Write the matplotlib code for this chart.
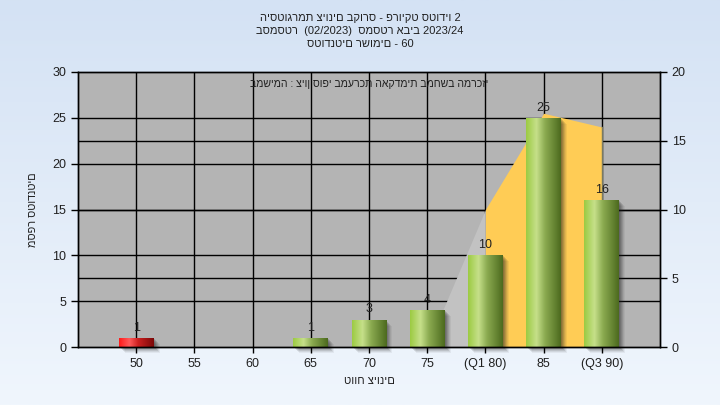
import numpy as np
import matplotlib
matplotlib.use("Agg")
import matplotlib.pyplot as plt
from matplotlib.patches import Rectangle
from matplotlib.colors import LinearSegmentedColormap
import matplotlib.transforms as mtransforms

# ---------------- data ----------------
categories = ["50", "55", "60", "65", "70", "75", "(Q1 80)", "85", "(Q3 90)"]
counts = [1, 0, 0, 1, 3, 4, 10, 25, 16]
failing = [True, False, False, False, False, False, False, False, False]
area_values = [0, 0, 0, 0, 0, 0, 10, 17, 16]   # right axis units
area_start = 5      # index where grey area begins
q1_index = 6
q3_index = 8

title_lines = ["היסטוגרמת ציונים בקורס - פרויקט סטודיו 2",
               "בסמסטר  (02/2023)  סמסטר אביב 2023/24",
               "סטודנטים רשומים - 60"]
note_text = "במשימה : ציון סופי במערכת האקדמית במחשב המרכזי"
xlabel = "טווח ציונים"
ylabel = "מספר סטודנטים"
left_ticks = [0, 5, 10, 15, 20, 25, 30]
right_ticks = [0, 5, 10, 15, 20]

plt.rcParams['font.family'] = ['Liberation Sans', 'DejaVu Sans']

W, H = 720, 405
fig = plt.figure(figsize=(W / 100, H / 100), dpi=100)

# background gradient
bg = fig.add_axes([0, 0, 1, 1], zorder=-10)
grad = np.linspace(0, 1, 256).reshape(-1, 1)
bg_cmap = LinearSegmentedColormap.from_list("bg", ["#d4e2f4", "#f0f6fd"])
bg.imshow(grad, aspect='auto', cmap=bg_cmap, extent=[0, 1, 0, 1], origin='upper')
bg.set_axis_off()

ax = fig.add_axes([78 / W, 58 / H, 582 / W, 275 / H])
ax.set_facecolor("#b4b4b4")
ax2 = ax.twinx()
ax2.patch.set_visible(False)

n = len(categories)
x = np.arange(n)

# grid lines
for v in left_ticks[1:-1]:
    ax.axhline(v, color="black", lw=1, zorder=0.5)
for v in right_ticks[1:-1]:
    ax.plot([0, 1], [v, v], color="black", lw=1, zorder=0.5,
            transform=mtransforms.blended_transform_factory(ax.transAxes, ax2.transData))
for xi in x:
    ax.axvline(xi, color="black", lw=1, zorder=0.5)

# area (right axis)
xa = x[area_start:q1_index + 1]
ax.fill_between(xa, 0, area_values[area_start:q1_index + 1], color="#c2c2c2",
                lw=0, zorder=1, transform=ax2.transData)
xo = x[q1_index:q3_index + 1]
ax.fill_between(xo, 0, area_values[q1_index:q3_index + 1], color="#ffcc55",
                lw=0, zorder=1, transform=ax2.transData)
ax.plot([x[q3_index]] * 2, [0, area_values[q3_index]], color="#7a7a60", lw=1,
        zorder=1.1, transform=ax2.transData)

# bars with gradient and shadow
green_cmap = LinearSegmentedColormap.from_list(
    "g", [(0, "#9cca42"), (0.3, "#c6e08a"), (0.55, "#8aaa50"), (1, "#4c6a1e")])
red_cmap = LinearSegmentedColormap.from_list(
    "r", [(0, "#ff1a1a"), (0.3, "#ff5a5a"), (0.55, "#cc2020"), (1, "#7a0808")])
bw = 0.6
hgrad = np.linspace(0, 1, 256).reshape(1, -1)
for xi, c, f in zip(x, counts, failing):
    if c <= 0:
        continue
    x0 = xi - bw / 2
    for k, a in zip(range(1, 7), [0.16, 0.15, 0.13, 0.11, 0.08, 0.06]):
        off = mtransforms.offset_copy(ax.transData, fig=fig, x=k * 1.0, y=-k * 1.0, units='dots')
        sh = Rectangle((x0, 0), bw, c, transform=off, facecolor="#202020",
                       alpha=a, lw=0, zorder=1.5, clip_on=False)
        ax.add_patch(sh)
    rect = Rectangle((x0, 0), bw, c, facecolor="none", lw=0, zorder=2)
    ax.add_patch(rect)
    im = ax.imshow(hgrad, extent=[x0, x0 + bw, 0, c], aspect='auto',
                   cmap=red_cmap if f else green_cmap, zorder=2, interpolation='bilinear')
    im.set_clip_path(rect)
    ax.annotate(str(c), (xi, c), xytext=(0, 3), textcoords='offset points',
                ha='center', va='bottom', fontsize=9, color="#202020", zorder=3)

ax.set_xlim(-1, n)
ax.set_ylim(0, 30)
ax2.set_ylim(0, 20)

ax.set_xticks(x)
ax.set_xticklabels(categories)
ax.set_yticks(left_ticks)
ax2.set_yticks(right_ticks)
for a in (ax, ax2):
    a.tick_params(axis='both', labelsize=9, colors="black", labelcolor="#202020",
                  length=5, width=1, direction='out')
    for s in a.spines.values():
        s.set_color("black")
        s.set_linewidth(1)
ax.tick_params(axis='x', length=4, pad=4)

ax.set_xlabel(xlabel, fontsize=8, color="#202020", labelpad=4)
ax.set_ylabel(ylabel, fontsize=7.8, color="#202020", labelpad=10)

ax.text(0.5, 0.955, note_text, transform=ax.transAxes, ha='center', va='center',
        fontsize=7.6, color="#202020", zorder=4)

for i, line in enumerate(title_lines):
    fig.text(0.5, 1 - (18 + 13 * i) / H, line, ha='center', va='center',
             fontsize=8, color="#202020")

fig.savefig("out.png", dpi=100)
